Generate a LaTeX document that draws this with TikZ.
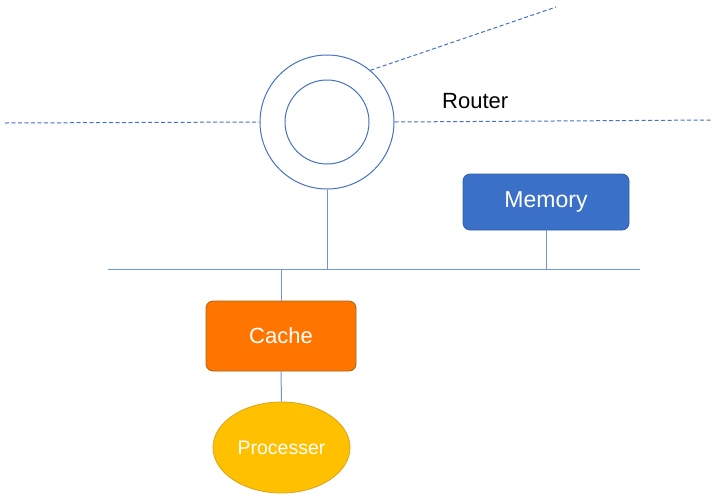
\documentclass[tikz,border=0pt]{standalone}
\usepackage{fontspec}
\setmainfont{Liberation Sans}
\usetikzlibrary{shapes.geometric}
\definecolor{linecol}{HTML}{4472C4}
\definecolor{buscol}{HTML}{6F95D8}
\definecolor{memfill}{HTML}{3A70C8}
\definecolor{memdraw}{HTML}{2F5FA8}
\definecolor{cachefill}{HTML}{FF7500}
\definecolor{cachedraw}{HTML}{A8650F}
\definecolor{procfill}{HTML}{FFC000}
\definecolor{procdraw}{HTML}{D9A520}
\begin{document}
\begin{tikzpicture}[x=1pt,y=-1pt,
  wire/.style={draw=buscol,line width=1pt},
  dashwire/.style={draw=linecol,line width=1pt,dash pattern=on 4pt off 2.5pt},
  ring/.style={circle,draw=linecol,line width=1pt,inner sep=0pt},
  boxnode/.style={rounded corners=7pt,line width=0.8pt,text=white,font=\fontsize{22}{26}\selectfont,inner sep=0pt}]
\useasboundingbox (0,0) rectangle (722,496);
% router
\node[ring,minimum size=134pt] (outer) at (327,122) {};
\node[ring,minimum size=84pt] (inner) at (327,122) {};
\node[font=\fontsize{22}{26}\selectfont,anchor=west,inner sep=0pt] (rlabel) at (442,101) {Router};
% dashed links
\coordinate (dl) at (5,123);
\coordinate (dr) at (712,120);
\coordinate (du) at (556,7);
\draw[dashwire] (dl) -- (outer.west);
\draw[dashwire] (outer.east) -- (dr);
\draw[dashwire] (outer.50) -- (du);
% bus
\coordinate (busL) at (108,269);
\coordinate (busR) at (640,269);
\draw[wire] (busL) -- (busR);
\coordinate (rbus) at (327,269);
\coordinate (mbus) at (546,269);
\coordinate (cbus) at (281,269);
% memory
\node[boxnode,fill=memfill,draw=memdraw,minimum width=166pt,minimum height=56pt,font=\fontsize{23}{26}\selectfont] (mem) at (546,202) {Memory};
% cache
\node[boxnode,fill=cachefill,draw=cachedraw,minimum width=150pt,minimum height=70pt] (cache) at (281,336) {Cache};
% processer
\node[ellipse,fill=procfill,draw=procdraw,line width=0.8pt,minimum width=137pt,minimum height=91pt,inner sep=0pt,text=white,font=\fontsize{19.5}{22}\selectfont] (proc) at (281.5,447.5) {Processer};
% connectors
\draw[wire] (outer.south) -- (rbus);
\draw[wire] (mem.south) -- (mbus);
\draw[wire] (cbus) -- (cache.north);
\draw[wire] (cache.south) -- (proc.north);
\end{tikzpicture}
\end{document}
